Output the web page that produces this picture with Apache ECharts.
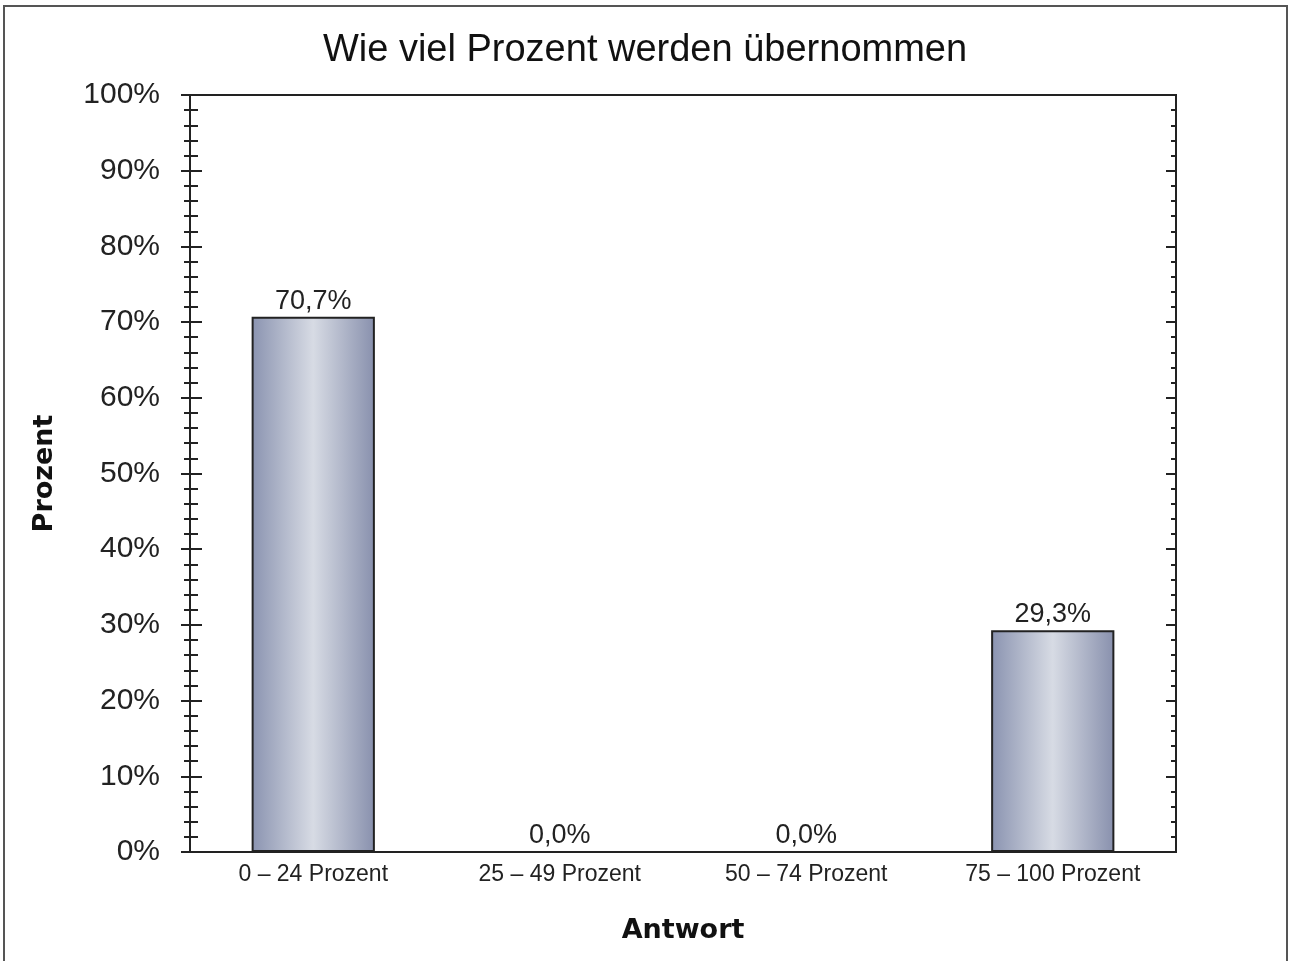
<!DOCTYPE html>
<html>
<head>
<meta charset="utf-8">
<title>Wie viel Prozent werden übernommen</title>
<script src="https://cdn.jsdelivr.net/npm/echarts@6/dist/echarts.min.js"></script>
<style>
  html, body { margin: 0; padding: 0; background: #fff; }
  #chart { width: 1290px; height: 961px; }
</style>
</head>
<body>
<div id="chart"></div>
<script>
  // Daten
  var categories = ['0 – 24 Prozent', '25 – 49 Prozent', '50 – 74 Prozent', '75 – 100 Prozent'];
  var values = [70.7, 0.0, 0.0, 29.3];
  var yTicks = [0, 100, 10];   // min, max, interval

  var chart = echarts.init(document.getElementById('chart'));

  var barColor = new echarts.graphic.LinearGradient(0, 0, 1, 0, [
    { offset: 0, color: '#8a93b0' },
    { offset: 0.5, color: '#d7dbe4' },
    { offset: 1, color: '#8890ad' }
  ]);

  // gemeinsame Einstellungen fuer die drei y-Achsen
  function yAxisBase() {
    return {
      type: 'value',
      min: yTicks[0],
      max: yTicks[1],
      interval: yTicks[2],
      splitLine: { show: false },
      axisLine: { show: true, lineStyle: { color: '#222', width: 2 } },
      minorTick: { show: true, splitNumber: 5 },
      minorSplitLine: { show: false }
    };
  }

  var yLeft = yAxisBase();
  yLeft.position = 'left';
  yLeft.name = 'Prozent';
  yLeft.nameLocation = 'middle';
  yLeft.nameGap = 132;
  yLeft.nameTextStyle = { fontFamily: 'DejaVu Sans', fontWeight: 'bold', fontSize: 27, color: '#111' };
  yLeft.axisTick = { show: true, inside: false, length: 9, lineStyle: { color: '#222', width: 2 } };
  yLeft.minorTick = { show: true, splitNumber: 5, length: 6, lineStyle: { color: '#222', width: 2 } };
  yLeft.axisLabel = {
    formatter: '{value}%', margin: 30,
    fontFamily: 'Liberation Sans', fontSize: 30, color: '#222'
  };

  // Ticks nach innen an der linken Achse
  var yLeftIn = yAxisBase();
  yLeftIn.position = 'left';
  yLeftIn.axisTick = { show: true, inside: true, length: 12, lineStyle: { color: '#222', width: 2 } };
  yLeftIn.minorTick = { show: true, splitNumber: 5, length: 8, lineStyle: { color: '#222', width: 2 } };
  yLeftIn.axisLabel = { show: false };

  var yRight = yAxisBase();
  yRight.position = 'right';
  yRight.axisTick = { show: true, inside: true, length: 10, lineStyle: { color: '#222', width: 2 } };
  yRight.minorTick = { show: true, splitNumber: 5, length: 5, lineStyle: { color: '#222', width: 2 } };
  yRight.axisLabel = { show: false };

  chart.setOption({
    backgroundColor: '#fff',
    animation: false,
    title: {
      text: 'Wie viel Prozent werden übernommen',
      left: 'center',
      top: 27,
      textStyle: { fontFamily: 'Liberation Sans', fontSize: 38, fontWeight: 'normal', color: '#111' }
    },
    graphic: [{
      type: 'rect',
      shape: { x: 4, y: 6, width: 1283, height: 1000 },
      style: { fill: 'none', stroke: '#555', lineWidth: 2 },
      silent: true
    }],
    grid: {
      left: 190, right: 114, top: 95, bottom: 109,
      show: true, borderColor: '#222', borderWidth: 2,
      backgroundColor: 'transparent',
      outerBoundsMode: 'none'
    },
    xAxis: {
      type: 'category',
      data: categories,
      name: 'Antwort',
      nameLocation: 'middle',
      nameGap: 65,
      nameTextStyle: { fontFamily: 'DejaVu Sans', fontWeight: 'bold', fontSize: 27, color: '#111' },
      axisLine: { show: true, lineStyle: { color: '#222', width: 2 } },
      axisTick: { show: false },
      axisLabel: { fontFamily: 'Liberation Sans', fontSize: 23, color: '#222', margin: 11 },
      splitLine: { show: false }
    },
    yAxis: [yLeft, yLeftIn, yRight],
    series: [{
      type: 'bar',
      yAxisIndex: 0,
      data: values,
      barWidth: '50%',
      itemStyle: { color: barColor, borderColor: '#222', borderWidth: 2 },
      label: {
        show: true,
        position: 'top',
        distance: 2,
        fontFamily: 'Liberation Sans',
        fontSize: 27,
        color: '#222',
        formatter: function (p) {
          return p.value.toFixed(1).replace('.', ',') + '%';
        }
      }
    }]
  });
</script>
</body>
</html>
